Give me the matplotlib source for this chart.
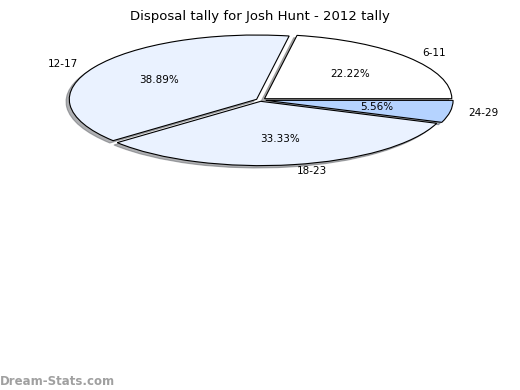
import matplotlib
matplotlib.use("Agg")
import matplotlib.pyplot as plt

# Disposal tally for Josh Hunt, 2012 (games per range)
labels = ['6-11', '12-17', '18-23', '24-29']
games = [4, 7, 6, 1]
colours = ['#ffffff', '#eaf2ff', '#eaf2ff', '#b5d3ff']
explode = [0.03, 0.02, 0.02, 0.03]

fig = plt.figure(figsize=(5.2, 3.9), dpi=100)
fig.text(0.5, 0.975, 'Disposal tally for Josh Hunt - 2012 tally',
         ha='center', va='top', fontsize=9.5)

ax = fig.add_axes([60 / 520, 1 - 170 / 390, 400 / 520, 140 / 390])
wedges, texts, autotexts = ax.pie(games, labels=labels, colors=colours,
                                  explode=explode, autopct='%.2f%%',
                                  radius=0.96,
                                  shadow={'ox': -0.012, 'oy': -0.025, 'shade': 0.6},
                                  startangle=0,
                                  wedgeprops={'edgecolor': 'black', 'linewidth': 0.8},
                                  textprops={'fontsize': 7.5})
ax.set_aspect('auto')
ax.set_xlim(-1.025, 1.025)
ax.set_ylim(-1.045, 1.045)
ax.axis('off')

fig.text(0.0, 0.005, 'Dream-Stats.com', ha='left', va='bottom',
         fontsize=8.5, color='#a0a0a0', fontweight='bold')

fig.savefig('out.png', dpi=100)
